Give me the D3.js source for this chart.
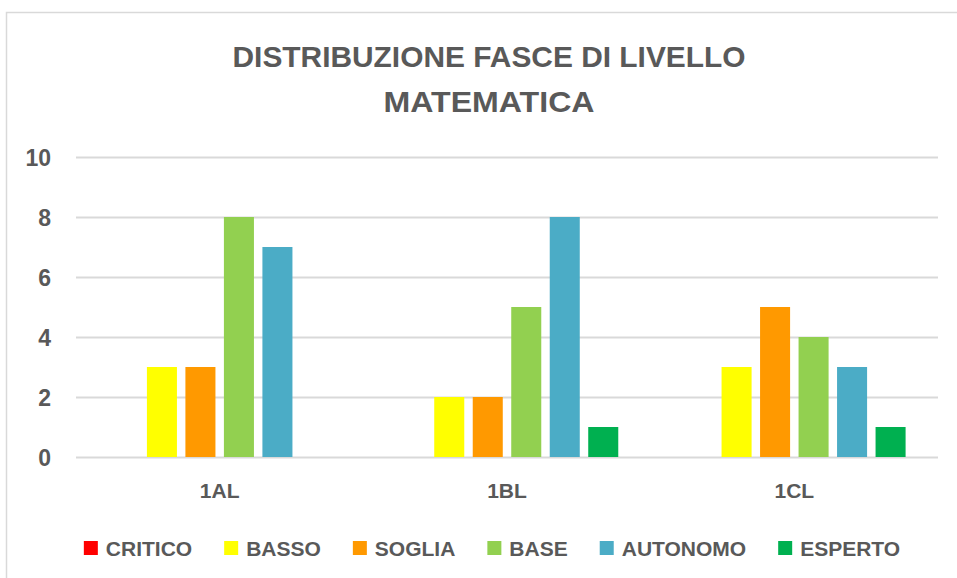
<!DOCTYPE html>
<html>
<body style="margin: 0; background: #fff">
  <script src="https://cdn.jsdelivr.net/npm/d3@7/dist/d3.min.js"></script>

  <script>
    const categories = ["1AL", "1BL", "1CL"];
    const seriesNames = ["CRITICO", "BASSO", "SOGLIA", "BASE", "AUTONOMO", "ESPERTO"];
    const seriesColors = ["#ff0000", "#ffff00", "#ff9900", "#92d050", "#4bacc6", "#00b050"];
    const critico = [0, 0, 0];
    const basso = [3, 2, 3];
    const soglia = [3, 2, 5];
    const base = [8, 5, 4];
    const autonomo = [7, 8, 3];
    const esperto = [0, 1, 1];
    const yTicks = [0, 2, 4, 6, 8, 10];
    const titleLines = ["DISTRIBUZIONE FASCE DI LIVELLO", "MATEMATICA"];

    const seriesValues = [critico, basso, soglia, base, autonomo, esperto];
    const FONT = "'Liberation Sans Narrow', 'Arial Narrow', 'Liberation Sans', sans-serif";
    const TEXT = "#595959";
    const GRID = "#d9d9d9";

    const start = () => {
      const width = 957;
      const height = 578;

      const svg = d3.select("body").append("svg")
        .attr("width", width)
        .attr("height", height)
        .style("display", "block");

      // chart frame (only top and left edges are visible in the crop)
      svg.append("path")
        .attr("d", `M6.5,${height} V12.5 H${width}`)
        .attr("fill", "none")
        .attr("stroke", GRID)
        .attr("stroke-width", 1.5);

      // title
      const title = svg.append("g")
        .attr("font-family", FONT)
        .attr("font-weight", "bold")
        .attr("fill", TEXT)
        .attr("text-anchor", "middle");
      title.selectAll("text")
        .data(titleLines)
        .enter()
        .append("text")
        .attr("x", 489)
        .attr("y", (d, i) => 67 + i * 45)
        .attr("font-size", 30)
        .attr("textLength", (d, i) => i === 0 ? 513 : 211)
        .attr("lengthAdjust", "spacingAndGlyphs")
        .text((d) => d);

      const plot = {left: 76, right: 938, top: 157, bottom: 457};

      const y = d3.scaleLinear()
        .domain([0, 10])
        .range([plot.bottom, plot.top]);

      const x0 = d3.scaleBand()
        .domain(categories)
        .range([plot.left, plot.right])
        .paddingInner(0.2255)
        .paddingOuter(0.1128);

      const x1 = d3.scaleBand()
        .domain(seriesNames)
        .range([0, x0.bandwidth()])
        .paddingInner(0.22);

      // gridlines
      svg.append("g")
        .selectAll("line")
        .data(yTicks)
        .enter()
        .append("line")
        .attr("x1", plot.left)
        .attr("x2", plot.right)
        .attr("y1", (d) => Math.round(y(d)) + 0.5)
        .attr("y2", (d) => Math.round(y(d)) + 0.5)
        .attr("stroke", GRID)
        .attr("stroke-width", 2);

      // y axis labels
      const yAxis = svg.append("g")
        .attr("transform", `translate(${plot.left - 25},0)`)
        .call(d3.axisLeft(y).tickValues(yTicks).tickSize(0).tickPadding(0));
      yAxis.select(".domain").remove();
      yAxis.selectAll("text")
        .attr("font-family", FONT)
        .attr("font-weight", "bold")
        .attr("font-size", 23)
        .attr("fill", TEXT)
        .attr("dy", "0.36em");

      // bars
      const groups = svg.append("g")
        .selectAll("g")
        .data(categories)
        .enter()
        .append("g")
        .attr("transform", (d) => `translate(${x0(d)},0)`);

      groups.selectAll("rect")
        .data((d, ci) => seriesNames.map((s, si) => ({s: s, v: seriesValues[si][ci], c: seriesColors[si]})))
        .enter()
        .append("rect")
        .attr("x", (d) => x1(d.s))
        .attr("width", x1.bandwidth())
        .attr("y", (d) => y(d.v))
        .attr("height", (d) => y(0) - y(d.v))
        .attr("fill", (d) => d.c);

      // x axis labels
      const xAxis = svg.append("g")
        .attr("transform", `translate(0,${plot.bottom + 26})`)
        .call(d3.axisBottom(x0).tickSize(0).tickPadding(0));
      xAxis.select(".domain").remove();
      xAxis.selectAll("text")
        .attr("font-family", FONT)
        .attr("font-weight", "bold")
        .attr("font-size", 21)
        .attr("fill", TEXT);

      // legend
      const legend = svg.append("g")
        .attr("font-family", FONT)
        .attr("font-weight", "bold")
        .attr("font-size", 21)
        .attr("fill", TEXT);

      const items = legend.selectAll("g")
        .data(seriesNames)
        .enter()
        .append("g");

      items.append("rect")
        .attr("y", 541)
        .attr("width", 14)
        .attr("height", 14)
        .attr("fill", (d, i) => seriesColors[i]);

      items.append("text")
        .attr("x", 22)
        .attr("y", 556)
        .text((d) => d);

      let cx = 0;
      const offsets = [];
      items.each(function () {
        const w = this.querySelector("text").getComputedTextLength();
        offsets.push(cx);
        cx += 22 + w + 32;
      });
      const total = cx - 32;
      const startX = 492 - total / 2;
      items.attr("transform", (d, i) => `translate(${startX + offsets[i]},0)`);
    };

    document.addEventListener("DOMContentLoaded", () => {
      start();
    }, false);
  </script>
</body>
</html>
